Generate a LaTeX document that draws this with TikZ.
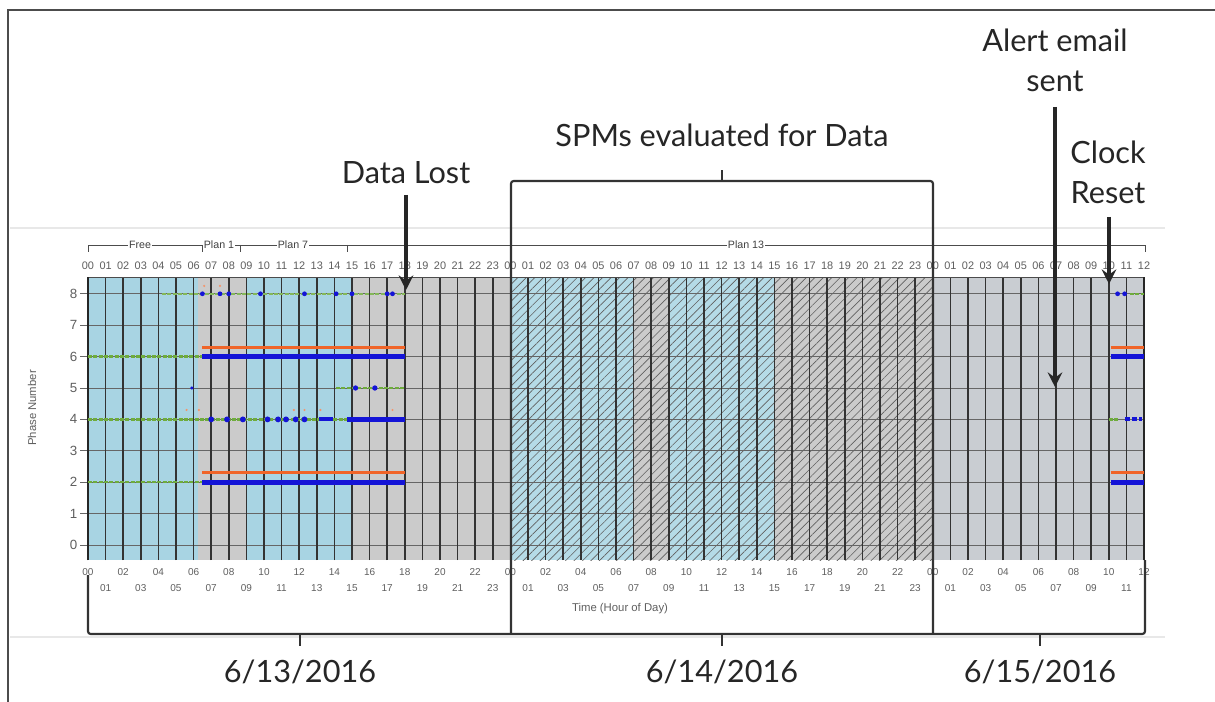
\documentclass[tikz,border=0pt]{standalone}
\usepackage{fontspec}
\setmainfont{Lato}
\newfontfamily\chartfont{Liberation Sans}
\usetikzlibrary{arrows.meta,patterns.meta}
\definecolor{bgblue}{RGB}{168,212,227}
\definecolor{bggray}{RGB}{203,203,203}
\definecolor{bggray3}{RGB}{201,205,210}
\definecolor{dblue}{RGB}{20,20,215}
\definecolor{dorange}{RGB}{240,100,40}
\definecolor{dgreen}{RGB}{110,172,60}
\definecolor{labgray}{RGB}{95,95,95}
\begin{document}
\begin{tikzpicture}[x=0.75pt,y=-0.75pt,
 annot/.style={font=\fontsize{23}{30}\selectfont, text=black!85, align=center, inner sep=0pt},
 annarrow/.style={line width=2.3pt, black!85, -{Stealth[length=11pt,width=11pt,inset=4pt]}},
 brk/.style={line width=1.6pt, black!80, rounded corners=2pt},
 toplab/.style={font=\chartfont\fontsize{8.2}{9}\selectfont, text=labgray, inner sep=0pt},
 botlab/.style={font=\chartfont\fontsize{7.5}{9}\selectfont, text=labgray, inner sep=0pt},
 ylab/.style={font=\chartfont\fontsize{10}{11}\selectfont, text=labgray, inner sep=0pt, anchor=east},
 axlab/.style={font=\chartfont\fontsize{8.5}{10}\selectfont, text=labgray, inner sep=0pt},
 planlab/.style={font=\chartfont\fontsize{8}{9}\selectfont, text=black!75, fill=white, inner sep=1pt},
 planln/.style={line width=0.7pt, black!70},
 gridv/.style={line width=1.1pt, black!80},
 gridh/.style={line width=0.7pt, black!60},
 greenln/.style={line width=1.9pt, dgreen, dash pattern=on 3pt off 1pt},
 blueln/.style={line width=3.6pt, dblue},
 orangeln/.style={line width=2.2pt, dorange},
 bdot/.style={dblue},
 odot/.style={dorange!70}
]
\useasboundingbox (0,0) rectangle (1215,702);
\fill[white] (0,0) rectangle (1215,702);
% faint chart-image edges
\draw[gray!18, line width=0.8pt] (10,228) -- (1165,228);
\draw[gray!18, line width=0.8pt] (10,637) -- (1165,637);
% outer frame
\draw[line width=2pt, black!70] (8,702) -- (8,10) -- (1215,10);

\begin{scope}[shift={(88,545)}, x=13.2pt, y=23.55pt]
  % backgrounds
  \fill[bggray] (0,-0.48) rectangle (48,8.53);
  \fill[bggray3] (48,-0.48) rectangle (60,8.53);
  \fill[bgblue] (0,-0.48) rectangle (6.25,8.53);
  \fill[bgblue] (9,-0.48) rectangle (15,8.53);
  \fill[bgblue!85!white] (24,-0.48) rectangle (31,8.53);
  \fill[bgblue!85!white] (33,-0.48) rectangle (39,8.53);
  \fill[pattern={Lines[angle=45,distance=4.5pt,line width=0.5pt]}, pattern color=gray!75!black] (24,-0.48) rectangle (48,8.53);
  % grid
  \foreach \p in {0,...,8} {
    \draw[gridh] (0,\p) -- (60,\p);
    \draw[gridh] (-0.45,\p) -- (0,\p);
    \node[ylab] (y\p) at (-0.6,\p) {\p};
  }
  \foreach \h in {0,...,60} \draw[gridv] (\h,-0.48) -- (\h,8.53);
  \draw[line width=0.8pt, black!70] (0,8.53) -- (60,8.53);
  \draw[line width=1.4pt, black!85] (0,-0.48) -- (0,8.53);
  \draw[line width=1.6pt, black!85] (60,-0.48) -- (60,8.53);
  % ---- phases 6 and 2 (days 1 and 3)
  \foreach \p in {6,2} {
    \draw[greenln] (0,\p) -- (6.5,\p);
    \draw[blueln] (6.5,\p) -- (18,\p);
    \draw[orangeln] (6.5,\p+0.3) -- (18,\p+0.3);
    \draw[blueln] (58.1,\p) -- (60,\p);
    \draw[orangeln] (58.1,\p+0.3) -- (60,\p+0.3);
  }
  % phase 4
  \draw[greenln] (0,4) -- (14.7,4);
  \draw[line width=3pt, dblue] (13.1,4) -- (13.9,4);
  \draw[blueln] (14.7,4) -- (18,4);
  \foreach \h in {7.0,7.9,8.8,10.2,10.8,11.25,11.8,12.3} \fill[bdot] (\h,4) circle (2.2pt);
  \foreach \h in {5.6,6.3,11.7,12.3,13.2,17.3} \fill[odot] (\h,4.3) circle (0.9pt);
  % phase 5
  \draw[greenln] (14.1,5) -- (18,5);
  \fill[bdot] (5.9,5) circle (1.3pt);
  \foreach \h in {15.2,16.3} \fill[bdot] (\h,5) circle (2pt);
  % phase 8
  \draw[greenln, dgreen!85!white] (4.2,8) -- (18,8);
  \foreach \h in {6.5,7.5,8.0,9.8,12.3,14.1,15.0,17.0,17.3} \fill[bdot] (\h,8) circle (1.8pt);
  \foreach \h in {6.6,7.5} \fill[odot] (\h,8.25) circle (0.9pt);
  % ---- day 3 data
  \draw[greenln] (58.0,4) -- (58.6,4);
  \draw[line width=3pt, dblue, dash pattern=on 4pt off 1.5pt] (58.9,4) -- (59.9,4);
  \foreach \h in {58.5,58.9} \fill[bdot] (\h,8) circle (1.8pt);
  \draw[greenln] (59.2,8) -- (60,8);
\end{scope}

% hour labels
\foreach \h in {0,...,60}{
  \pgfmathtruncatemacro\hh{mod(\h,24)}
  \edef\lab{\ifnum\hh<10 0\fi\hh}
  \node[toplab] (t\h) at ({88+17.6*\h},266) {\lab};
  \ifodd\h \def\yy{588}\else\def\yy{572}\fi
  \node[botlab] (b\h) at ({88+17.6*\h},\yy) {\lab};
}
\node[axlab] (xax) at (620,609) {Time (Hour of Day)};
\node[axlab, rotate=90] (yax) at (32,408) {Phase Number};

% plan bracket
\draw[planln] (88,252) -- (88,245) -- (1145,245) -- (1145,252);
\foreach \x in {202,240,347} \draw[planln] (\x,245) -- (\x,252);
\node[planlab] (free) at (140,245) {Free};
\node[planlab] (plan1) at (219,245) {Plan 1};
\node[planlab] (plan7) at (293,245) {Plan 7};
\node[planlab] (plan13) at (746,245) {Plan 13};

% brackets
\draw[brk] (88,575) -- (88,634) -- (1145,634) -- (1145,560);
\draw[brk] (511,634) -- (511,181) -- (933,181) -- (933,634);
\draw[brk] (722,181) -- (722,170);
\foreach \x in {300,722,1040} \draw[brk] (\x,634) -- (\x,646);

% annotations
\node[annot] (spm) at (722,135) {SPMs evaluated for Data};
\node[annot] (lost) at (406,173) {Data Lost};
\coordinate (lostA) at (406,195);
\coordinate (lostB) at (406,290);
\draw[annarrow] (lostA) -- (lostB);
\node[annot] (alert) at (1055,60) {Alert email\\sent};
\coordinate (alertA) at (1055,107);
\coordinate (alertB) at (1055,387);
\draw[annarrow] (alertA) -- (alertB);
\node[annot] (clock) at (1108,172) {Clock\\Reset};
\coordinate (clockA) at (1109,217);
\coordinate (clockB) at (1109,284);
\draw[annarrow] (clockA) -- (clockB);

\node[annot] (d1) at (300,672) {6/13/2016};
\node[annot] (d2) at (722,672) {6/14/2016};
\node[annot] (d3) at (1040,672) {6/15/2016};
\end{tikzpicture}
\end{document}
